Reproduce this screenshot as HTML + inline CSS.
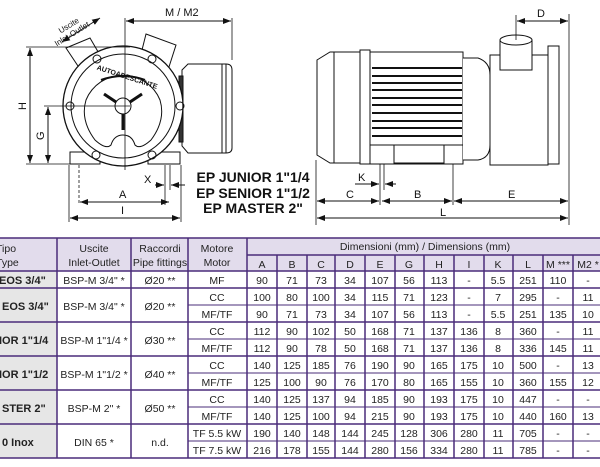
<!DOCTYPE html>
<html><head><meta charset="utf-8"><style>
html,body{margin:0;padding:0;background:#fff;}
svg{display:block;font-family:"Liberation Sans",sans-serif;}
</style></head><body>
<svg width="600" height="467" viewBox="0 0 600 467" xmlns="http://www.w3.org/2000/svg">
<defs>
<marker id="a" markerWidth="8" markerHeight="6" refX="8" refY="3" orient="auto-start-reverse" markerUnits="userSpaceOnUse"><path d="M0,0 L8,3 L0,6 z" fill="#111"/></marker>
</defs>
<g stroke="#111" stroke-width="1" fill="none">
<!-- LEFT DRAWING -->
<!-- pipes -->
<path d="M66,48 L90,38 L104,62 L84,75 z" fill="#fff"/>
<path d="M146,34 L176,45 L168,70 L140,58 z" fill="#fff"/>
<!-- motor -->
<path d="M182,70 L188,64 L226,64 Q232,64 232,70 L232,148 Q232,153 226,153 L188,153 L182,146 z" fill="#fff"/>
<line x1="222" y1="64" x2="222" y2="153"/><line x1="226" y1="64" x2="226" y2="153"/>
<rect x="179" y="76" width="4" height="66" fill="#333"/>
<!-- feet -->
<rect x="70" y="152" width="30" height="12" fill="#fff"/>
<rect x="148" y="152" width="32" height="12" fill="#fff"/>
<circle cx="123" cy="106" r="60" fill="#fff" stroke-width="1.3"/>
<circle cx="123" cy="106" r="52"/>
<path d="M95,140 Q80,120 86,100 A40,40 0 0 1 160,100 Q166,120 151,140 Q140,150 135,145 Q132,135 123,135 Q114,135 111,145 Q106,150 95,140 z"/>
<circle cx="123" cy="106" r="8"/>
<path d="M104,94 L116,102 M142,94 L130,102 M123,114 L123,130" stroke-width="3"/>
<path d="M101,80 Q123,72 145,80" stroke-width="2"/>
<circle cx="97" cy="59" r="4"/><circle cx="152" cy="59" r="4"/>
<circle cx="70" cy="106" r="4"/><circle cx="180" cy="106" r="4"/>
<circle cx="96" cy="155" r="4"/><circle cx="152" cy="155" r="4"/>
<!-- dimension lines -->
<line x1="125" y1="18" x2="125" y2="170" stroke-width="0.8"/>
<line x1="232" y1="18" x2="232" y2="60" stroke-width="0.8"/>
<line x1="126" y1="21" x2="231" y2="21" marker-start="url(#a)" marker-end="url(#a)"/>
<line x1="26" y1="47" x2="130" y2="47" stroke-width="0.8"/>
<line x1="30" y1="48" x2="30" y2="163" marker-start="url(#a)" marker-end="url(#a)"/>
<line x1="44" y1="106" x2="130" y2="106" stroke-width="0.8"/>
<line x1="48" y1="107" x2="48" y2="163" marker-start="url(#a)" marker-end="url(#a)"/>
<line x1="26" y1="164" x2="100" y2="164" stroke-width="0.8"/>
<line x1="62" y1="42" x2="100" y2="18" marker-start="url(#a)" marker-end="url(#a)"/>
<line x1="69" y1="165" x2="69" y2="222" stroke-width="0.8"/>
<line x1="79" y1="165" x2="79" y2="205" stroke-width="0.8" stroke-dasharray="3,2"/>
<line x1="165" y1="165" x2="165" y2="205" stroke-width="0.8"/>
<line x1="170" y1="165" x2="170" y2="190" stroke-width="0.8"/>
<line x1="181" y1="165" x2="181" y2="222" stroke-width="0.8"/>
<line x1="155" y1="185" x2="164" y2="185" marker-end="url(#a)"/>
<line x1="185" y1="185" x2="171" y2="185" marker-end="url(#a)"/>
<line x1="80" y1="202" x2="169" y2="202" marker-start="url(#a)" marker-end="url(#a)"/>
<line x1="70" y1="218" x2="180" y2="218" marker-start="url(#a)" marker-end="url(#a)"/>

<!-- RIGHT DRAWING -->
<path d="M317,60 L330,52 L360,52 L360,163 L330,163 L317,155 z" fill="#fff"/>
<line x1="334" y1="52" x2="334" y2="163"/>
<rect x="360" y="50" width="10" height="114" fill="#fff"/>
<rect x="370" y="52" width="93" height="112" fill="#fff"/>
<g stroke-width="2">
<line x1="372" y1="68" x2="462" y2="68"/><line x1="372" y1="76" x2="462" y2="76"/>
<line x1="372" y1="83" x2="462" y2="83"/><line x1="372" y1="90" x2="462" y2="90"/>
<line x1="372" y1="98" x2="462" y2="98"/><line x1="372" y1="105" x2="462" y2="105"/>
<line x1="372" y1="113" x2="462" y2="113"/><line x1="372" y1="121" x2="462" y2="121"/>
<line x1="372" y1="128" x2="462" y2="128"/><line x1="372" y1="136" x2="462" y2="136"/>
</g>
<line x1="370" y1="145" x2="463" y2="145"/>
<rect x="394" y="145" width="50" height="18"/>
<path d="M463,58 L478,58 Q490,62 490,75 L490,145 Q490,158 478,160 L463,160" fill="#fff"/>
<rect x="490" y="55" width="58" height="110" fill="#fff"/>
<rect x="548" y="46" width="11" height="118" fill="#fff"/>
<path d="M500,40 L500,70 L532,70 L532,40" fill="#fff"/>
<ellipse cx="516" cy="40" rx="16" ry="5" fill="#fff"/>
<line x1="316" y1="160" x2="316" y2="225" stroke-width="0.8"/>
<line x1="380" y1="164" x2="380" y2="205" stroke-width="0.8"/>
<line x1="384" y1="164" x2="384" y2="190" stroke-width="0.8"/>
<line x1="453" y1="164" x2="453" y2="205" stroke-width="0.8"/>
<line x1="569" y1="14" x2="569" y2="225" stroke-width="0.8"/>
<line x1="516" y1="15" x2="516" y2="40" stroke-width="0.8"/>
<line x1="517" y1="21" x2="568" y2="21" marker-start="url(#a)" marker-end="url(#a)"/>
<line x1="355" y1="184" x2="379" y2="184" marker-end="url(#a)"/>
<line x1="396" y1="184" x2="385" y2="184" marker-end="url(#a)"/>
<line x1="317" y1="201" x2="379" y2="201" marker-start="url(#a)" marker-end="url(#a)"/>
<line x1="382" y1="201" x2="452" y2="201" marker-start="url(#a)" marker-end="url(#a)"/>
<line x1="454" y1="201" x2="568" y2="201" marker-start="url(#a)" marker-end="url(#a)"/>
<line x1="317" y1="218" x2="568" y2="218" marker-start="url(#a)" marker-end="url(#a)"/>
</g>
<g font-size="11" fill="#111">
<text x="165" y="16">M / M2</text>
<text x="18" y="110" transform="rotate(-90 22 106)">H</text>
<text x="36" y="140" transform="rotate(-90 40 136)">G</text>
<text x="119" y="198">A</text>
<text x="121" y="214">I</text>
<text x="144" y="183">X</text>
<text x="537" y="17">D</text>
<text x="358" y="181">K</text>
<text x="346" y="198">C</text>
<text x="414" y="198">B</text>
<text x="508" y="198">E</text>
<text x="440" y="216">L</text>
<text x="56" y="27" font-size="8" transform="rotate(-32 70 22)">Uscite</text>
<text x="50" y="37" font-size="8" transform="rotate(-32 70 30)">Inlet-Outlet</text>
<text x="95" y="78" font-size="7" font-weight="bold" transform="rotate(18 123 78)">AUTOADESCANTE</text>
</g>
<g font-size="14" font-weight="bold" fill="#111" text-anchor="middle">
<text x="253" y="182">EP JUNIOR 1"1/4</text>
<text x="253" y="198">EP SENIOR 1"1/2</text>
<text x="253" y="213">EP MASTER 2"</text>
</g>

<!-- TABLE -->
<rect x="-2" y="238" width="605" height="33" fill="#e2dcec"/>
<rect x="-2" y="271" width="59" height="187" fill="#e6e6e6"/>
<g stroke="#4a2c7a" stroke-width="1.5" fill="none">
<line x1="-2" y1="238" x2="603" y2="238"/>
<line x1="-2" y1="271" x2="603" y2="271"/>
<line x1="247" y1="255" x2="603" y2="255"/>
<line x1="-2" y1="458" x2="603" y2="458"/>
<path d="M-2,288H603 M-2,322H603 M-2,356H603 M-2,390H603 M-2,424H603"/>
<g stroke-width="1">
<path d="M188,305H603 M188,339H603 M188,373H603 M188,407H603 M188,441H603"/>
</g>
<path d="M57,238V458 M131,238V458 M188,238V458 M247,238V458"/>
<path d="M277,255V458 M307,255V458 M335,255V458 M365,255V458 M395,255V458 M424,255V458 M454,255V458 M484,255V458 M513,255V458 M543,255V458 M573,255V458"/>
</g>
<g font-size="10.5" fill="#222" text-anchor="middle">
<text x="2" y="252" text-anchor="start" dx="-6">Tipo</text>
<text x="2" y="266" text-anchor="start" dx="-6">Type</text>
<text x="94" y="252">Uscite</text><text x="94" y="266">Inlet-Outlet</text>
<text x="160" y="252">Raccordi</text><text x="160" y="266">Pipe fittings</text>
<text x="217" y="252">Motore</text><text x="217" y="266">Motor</text>
<text x="425" y="250">Dimensioni (mm) / Dimensions (mm)</text>
<text x="262" y="268">A</text><text x="292" y="268">B</text><text x="321" y="268">C</text>
<text x="350" y="268">D</text><text x="380" y="268">E</text><text x="409" y="268">G</text>
<text x="439" y="268">H</text><text x="469" y="268">I</text><text x="498" y="268">K</text>
<text x="528" y="268">L</text><text x="558" y="268">M ***</text><text x="588" y="268">M2 *</text>
</g>
<g font-size="11" font-weight="bold" fill="#222">
<text x="-1" y="284">EOS 3/4"</text>
<text x="2" y="310">EOS 3/4"</text>
<text x="-1" y="344">IOR 1"1/4</text>
<text x="-1" y="378">IOR 1"1/2</text>
<text x="2" y="412">STER 2"</text>
<text x="2" y="446">0 Inox</text>
</g>
<g font-size="10.5" fill="#222" text-anchor="middle">
<text x="94" y="284">BSP-M 3/4" *</text><text x="160" y="284">Ø20 **</text>
<text x="94" y="310">BSP-M 3/4" *</text><text x="160" y="310">Ø20 **</text>
<text x="94" y="344">BSP-M 1"1/4 *</text><text x="160" y="344">Ø30 **</text>
<text x="94" y="378">BSP-M 1"1/2 *</text><text x="160" y="378">Ø40 **</text>
<text x="94" y="412">BSP-M 2" *</text><text x="160" y="412">Ø50 **</text>
<text x="94" y="446">DIN 65 *</text><text x="160" y="446">n.d.</text>
</g>
<g font-size="10.5" fill="#222" text-anchor="middle">
<g transform="translate(0,284)"><text x="217">MF</text><text x="262">90</text><text x="292">71</text><text x="321">73</text><text x="350">34</text><text x="380">107</text><text x="409">56</text><text x="439">113</text><text x="469">-</text><text x="498">5.5</text><text x="528">251</text><text x="558">110</text><text x="588">-</text></g>
<g transform="translate(0,301)"><text x="217">CC</text><text x="262">100</text><text x="292">80</text><text x="321">100</text><text x="350">34</text><text x="380">115</text><text x="409">71</text><text x="439">123</text><text x="469">-</text><text x="498">7</text><text x="528">295</text><text x="558">-</text><text x="588">11</text></g>
<g transform="translate(0,318)"><text x="217">MF/TF</text><text x="262">90</text><text x="292">71</text><text x="321">73</text><text x="350">34</text><text x="380">107</text><text x="409">56</text><text x="439">113</text><text x="469">-</text><text x="498">5.5</text><text x="528">251</text><text x="558">135</text><text x="588">10</text></g>
<g transform="translate(0,335)"><text x="217">CC</text><text x="262">112</text><text x="292">90</text><text x="321">102</text><text x="350">50</text><text x="380">168</text><text x="409">71</text><text x="439">137</text><text x="469">136</text><text x="498">8</text><text x="528">360</text><text x="558">-</text><text x="588">11</text></g>
<g transform="translate(0,352)"><text x="217">MF/TF</text><text x="262">112</text><text x="292">90</text><text x="321">78</text><text x="350">50</text><text x="380">168</text><text x="409">71</text><text x="439">137</text><text x="469">136</text><text x="498">8</text><text x="528">336</text><text x="558">145</text><text x="588">11</text></g>
<g transform="translate(0,369)"><text x="217">CC</text><text x="262">140</text><text x="292">125</text><text x="321">185</text><text x="350">76</text><text x="380">190</text><text x="409">90</text><text x="439">165</text><text x="469">175</text><text x="498">10</text><text x="528">500</text><text x="558">-</text><text x="588">13</text></g>
<g transform="translate(0,386)"><text x="217">MF/TF</text><text x="262">125</text><text x="292">100</text><text x="321">90</text><text x="350">76</text><text x="380">170</text><text x="409">80</text><text x="439">165</text><text x="469">155</text><text x="498">10</text><text x="528">360</text><text x="558">155</text><text x="588">12</text></g>
<g transform="translate(0,403)"><text x="217">CC</text><text x="262">140</text><text x="292">125</text><text x="321">137</text><text x="350">94</text><text x="380">185</text><text x="409">90</text><text x="439">193</text><text x="469">175</text><text x="498">10</text><text x="528">447</text><text x="558">-</text><text x="588">-</text></g>
<g transform="translate(0,420)"><text x="217">MF/TF</text><text x="262">140</text><text x="292">125</text><text x="321">100</text><text x="350">94</text><text x="380">215</text><text x="409">90</text><text x="439">193</text><text x="469">175</text><text x="498">10</text><text x="528">440</text><text x="558">160</text><text x="588">13</text></g>
<g transform="translate(0,437)"><text x="217">TF 5.5 kW</text><text x="262">190</text><text x="292">140</text><text x="321">148</text><text x="350">144</text><text x="380">245</text><text x="409">128</text><text x="439">306</text><text x="469">280</text><text x="498">11</text><text x="528">705</text><text x="558">-</text><text x="588">-</text></g>
<g transform="translate(0,454)"><text x="217">TF 7.5 kW</text><text x="262">216</text><text x="292">178</text><text x="321">155</text><text x="350">144</text><text x="380">280</text><text x="409">156</text><text x="439">334</text><text x="469">280</text><text x="498">11</text><text x="528">785</text><text x="558">-</text><text x="588">-</text></g>
</g>
</svg>
</body></html>
